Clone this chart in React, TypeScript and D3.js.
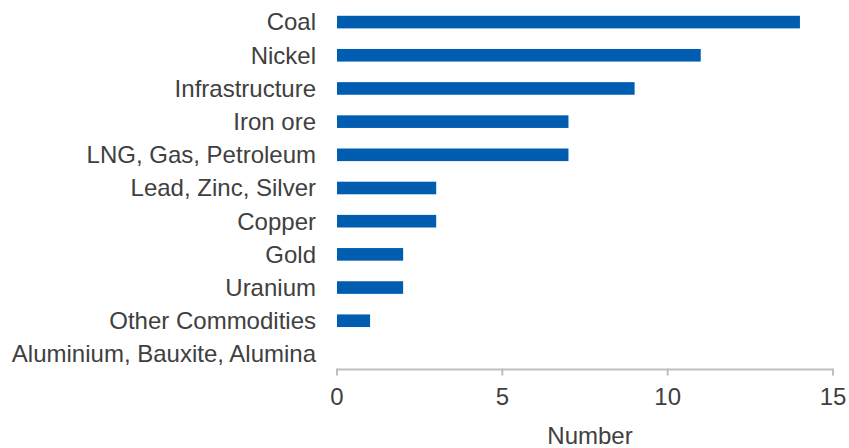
import React from "react";
import * as d3 from "d3";

const categories: string[] = [
  "Coal",
  "Nickel",
  "Infrastructure",
  "Iron ore",
  "LNG, Gas, Petroleum",
  "Lead, Zinc, Silver",
  "Copper",
  "Gold",
  "Uranium",
  "Other Commodities",
  "Aluminium, Bauxite, Alumina",
];
const values: number[] = [14, 11, 9, 7, 7, 3, 3, 2, 2, 1, 0];
const xTicks: number[] = [0, 5, 10, 15];
const xTitle = "Number";

const W = 849;
const H = 448;

export default function App() {
  const x = d3.scaleLinear().domain([0, 15]).range([337, 833]);
  const y = d3
    .scaleBand<string>()
    .domain(categories)
    .range([5.5, 370.5])
    .paddingInner(0.62)
    .paddingOuter(0.31);
  const axisY = 369.5;
  const font = "'Liberation Sans', Arial, sans-serif";
  const textColor = "#404040";

  return (
    <div style={{ position: "absolute", left: 0, top: 0 }}>
      <svg width={W} height={H} style={{ display: "block", background: "#fff" }}>
        <g>
          {categories.map((c, i) => (
            <rect
              key={c}
              x={x(0)}
              y={y(c)!}
              width={x(values[i]) - x(0)}
              height={y.bandwidth()}
              fill="#005DB0"
            />
          ))}
        </g>
        <g fontFamily={font} fontSize={24} fill={textColor}>
          {categories.map((c) => (
            <text
              key={c}
              x={316}
              y={y(c)! + y.bandwidth() / 2}
              dy="0.35em"
              textAnchor="end"
            >
              {c}
            </text>
          ))}
        </g>
        <g>
          <line
            x1={x(0)}
            x2={x(15)}
            y1={axisY}
            y2={axisY}
            stroke="#BFBFBF"
            strokeWidth={2}
          />
          {xTicks.map((t) => (
            <line
              key={t}
              x1={x(t)}
              x2={x(t)}
              y1={axisY - 1}
              y2={axisY + 6}
              stroke="#BFBFBF"
              strokeWidth={2}
            />
          ))}
        </g>
        <g fontFamily={font} fontSize={24} fill={textColor}>
          {xTicks.map((t) => (
            <text key={t} x={x(t)} y={404.5} textAnchor="middle">
              {t}
            </text>
          ))}
          <text x={590} y={444} textAnchor="middle">
            {xTitle}
          </text>
        </g>
      </svg>
    </div>
  );
}
